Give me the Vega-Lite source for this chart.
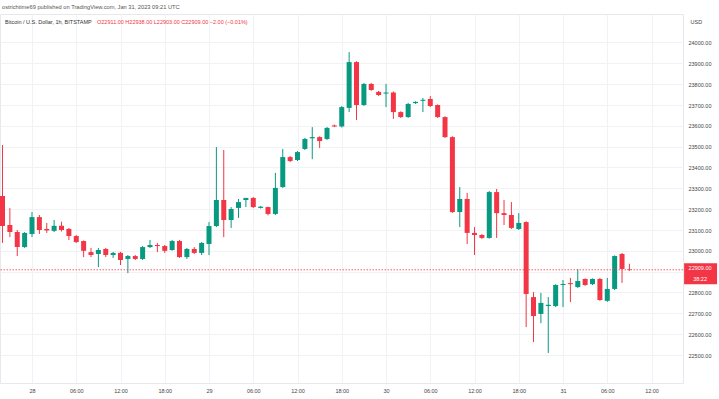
{
  "$schema": "https://vega.github.io/schema/vega-lite/v6.json",
  "width": 683,
  "height": 369,
  "autosize": "none",
  "padding": {"left": 0, "top": 14, "right": 36, "bottom": 16},
  "background": "white",
  "config": {
    "font": "Liberation Sans",
    "view": {"stroke": "#e6e8ee"}
  },
  "title": {
    "text": "ostrichtime69 published on TradingView.com, Jan 31, 2023 09:21 UTC",
    "anchor": "start",
    "frame": "group",
    "fontSize": 5.7,
    "fontWeight": "normal",
    "color": "#555555",
    "offset": 4,
    "dx": 2
  },
  "datasets": {
    "candles": [
      {"t": 1674849600000, "open": 23263, "high": 23508, "low": 23038, "close": 23119},
      {"t": 1674853200000, "open": 23124, "high": 23205, "low": 23066, "close": 23090},
      {"t": 1674856800000, "open": 23090, "high": 23100, "low": 22975, "close": 23018},
      {"t": 1674860400000, "open": 23018, "high": 23090, "low": 23014, "close": 23086},
      {"t": 1674864000000, "open": 23081, "high": 23186, "low": 23066, "close": 23162},
      {"t": 1674867600000, "open": 23162, "high": 23172, "low": 23081, "close": 23100},
      {"t": 1674871200000, "open": 23105, "high": 23134, "low": 23086, "close": 23098},
      {"t": 1674874800000, "open": 23096, "high": 23148, "low": 23090, "close": 23120},
      {"t": 1674878400000, "open": 23120, "high": 23140, "low": 23093, "close": 23100},
      {"t": 1674882000000, "open": 23105, "high": 23110, "low": 23052, "close": 23071},
      {"t": 1674885600000, "open": 23071, "high": 23076, "low": 23038, "close": 23042},
      {"t": 1674889200000, "open": 23047, "high": 23050, "low": 22970, "close": 23000},
      {"t": 1674892800000, "open": 22994, "high": 23014, "low": 22970, "close": 22980},
      {"t": 1674896400000, "open": 22985, "high": 23014, "low": 22922, "close": 23004},
      {"t": 1674900000000, "open": 23009, "high": 23014, "low": 22970, "close": 22980},
      {"t": 1674903600000, "open": 22980, "high": 22995, "low": 22966, "close": 22990},
      {"t": 1674907200000, "open": 22990, "high": 22995, "low": 22932, "close": 22956},
      {"t": 1674910800000, "open": 22961, "high": 22980, "low": 22893, "close": 22975},
      {"t": 1674914400000, "open": 22975, "high": 22980, "low": 22956, "close": 22961},
      {"t": 1674918000000, "open": 22961, "high": 23023, "low": 22956, "close": 23018},
      {"t": 1674921600000, "open": 23018, "high": 23052, "low": 23014, "close": 23028},
      {"t": 1674925200000, "open": 23028, "high": 23038, "low": 22994, "close": 23023},
      {"t": 1674928800000, "open": 23023, "high": 23028, "low": 22990, "close": 23000},
      {"t": 1674932400000, "open": 23004, "high": 23052, "low": 23000, "close": 23047},
      {"t": 1674936000000, "open": 23047, "high": 23052, "low": 22966, "close": 22970},
      {"t": 1674939600000, "open": 22970, "high": 23014, "low": 22961, "close": 23009},
      {"t": 1674943200000, "open": 23009, "high": 23018, "low": 22985, "close": 22990},
      {"t": 1674946800000, "open": 22990, "high": 23042, "low": 22980, "close": 23038},
      {"t": 1674950400000, "open": 23033, "high": 23138, "low": 22980, "close": 23119},
      {"t": 1674954000000, "open": 23119, "high": 23498, "low": 23114, "close": 23244},
      {"t": 1674957600000, "open": 23244, "high": 23484, "low": 23066, "close": 23148},
      {"t": 1674961200000, "open": 23148, "high": 23210, "low": 23110, "close": 23201},
      {"t": 1674964800000, "open": 23206, "high": 23249, "low": 23158, "close": 23234},
      {"t": 1674968400000, "open": 23244, "high": 23254, "low": 23210, "close": 23254},
      {"t": 1674972000000, "open": 23254, "high": 23258, "low": 23205, "close": 23210},
      {"t": 1674975600000, "open": 23206, "high": 23215, "low": 23203, "close": 23212},
      {"t": 1674979200000, "open": 23210, "high": 23212, "low": 23170, "close": 23177},
      {"t": 1674982800000, "open": 23177, "high": 23374, "low": 23172, "close": 23302},
      {"t": 1674986400000, "open": 23306, "high": 23489, "low": 23302, "close": 23450},
      {"t": 1674990000000, "open": 23450, "high": 23455, "low": 23426, "close": 23431},
      {"t": 1674993600000, "open": 23436, "high": 23479, "low": 23431, "close": 23474},
      {"t": 1674997200000, "open": 23489, "high": 23542, "low": 23484, "close": 23537},
      {"t": 1675000800000, "open": 23540, "high": 23594, "low": 23440, "close": 23546},
      {"t": 1675004400000, "open": 23546, "high": 23550, "low": 23494, "close": 23527},
      {"t": 1675008000000, "open": 23537, "high": 23595, "low": 23532, "close": 23590},
      {"t": 1675011600000, "open": 23602, "high": 23606, "low": 23594, "close": 23597},
      {"t": 1675015200000, "open": 23597, "high": 23695, "low": 23592, "close": 23690},
      {"t": 1675018800000, "open": 23686, "high": 23954, "low": 23666, "close": 23906},
      {"t": 1675022400000, "open": 23906, "high": 23910, "low": 23628, "close": 23700},
      {"t": 1675026000000, "open": 23700, "high": 23806, "low": 23695, "close": 23801},
      {"t": 1675029600000, "open": 23801, "high": 23806, "low": 23768, "close": 23772},
      {"t": 1675033200000, "open": 23763, "high": 23768, "low": 23743, "close": 23748},
      {"t": 1675036800000, "open": 23755, "high": 23801, "low": 23690, "close": 23760},
      {"t": 1675040400000, "open": 23760, "high": 23765, "low": 23633, "close": 23666},
      {"t": 1675044000000, "open": 23666, "high": 23670, "low": 23638, "close": 23642},
      {"t": 1675047600000, "open": 23642, "high": 23710, "low": 23638, "close": 23705},
      {"t": 1675051200000, "open": 23709, "high": 23718, "low": 23705, "close": 23715},
      {"t": 1675054800000, "open": 23720, "high": 23734, "low": 23666, "close": 23725},
      {"t": 1675058400000, "open": 23729, "high": 23743, "low": 23690, "close": 23695},
      {"t": 1675062000000, "open": 23700, "high": 23703, "low": 23638, "close": 23642},
      {"t": 1675065600000, "open": 23642, "high": 23646, "low": 23542, "close": 23546},
      {"t": 1675069200000, "open": 23546, "high": 23550, "low": 23182, "close": 23186},
      {"t": 1675072800000, "open": 23186, "high": 23306, "low": 23114, "close": 23249},
      {"t": 1675076400000, "open": 23249, "high": 23278, "low": 23033, "close": 23086},
      {"t": 1675080000000, "open": 23086, "high": 23114, "low": 22980, "close": 23076},
      {"t": 1675083600000, "open": 23076, "high": 23081, "low": 23057, "close": 23062},
      {"t": 1675087200000, "open": 23062, "high": 23287, "low": 23058, "close": 23282},
      {"t": 1675090800000, "open": 23282, "high": 23297, "low": 23062, "close": 23181},
      {"t": 1675094400000, "open": 23181, "high": 23244, "low": 23124, "close": 23172},
      {"t": 1675098000000, "open": 23172, "high": 23234, "low": 23105, "close": 23110},
      {"t": 1675101600000, "open": 23105, "high": 23181, "low": 23100, "close": 23134},
      {"t": 1675105200000, "open": 23138, "high": 23142, "low": 22634, "close": 22793},
      {"t": 1675108800000, "open": 22778, "high": 22802, "low": 22562, "close": 22687},
      {"t": 1675112400000, "open": 22697, "high": 22798, "low": 22653, "close": 22750},
      {"t": 1675116000000, "open": 22735, "high": 22778, "low": 22510, "close": 22741},
      {"t": 1675119600000, "open": 22735, "high": 22840, "low": 22730, "close": 22836},
      {"t": 1675123200000, "open": 22836, "high": 22860, "low": 22730, "close": 22841},
      {"t": 1675126800000, "open": 22845, "high": 22870, "low": 22754, "close": 22840},
      {"t": 1675130400000, "open": 22826, "high": 22912, "low": 22822, "close": 22855},
      {"t": 1675134000000, "open": 22865, "high": 22868, "low": 22832, "close": 22836},
      {"t": 1675137600000, "open": 22840, "high": 22868, "low": 22836, "close": 22865},
      {"t": 1675141200000, "open": 22865, "high": 22870, "low": 22760, "close": 22764},
      {"t": 1675144800000, "open": 22760, "high": 22870, "low": 22755, "close": 22817},
      {"t": 1675148400000, "open": 22817, "high": 22978, "low": 22812, "close": 22975},
      {"t": 1675152000000, "open": 22985, "high": 22990, "low": 22846, "close": 22913},
      {"t": 1675155600000, "open": 22911, "high": 22938, "low": 22903, "close": 22909}
    ],
    "notes": [
      {"symbol": "Bitcoin / U.S. Dollar, 1h, BITSTAMP", "ohlc": "O22911.00 H22938.00 L22903.00 C22909.00 −2.00 (−0.01%)", "last": "22909.00", "countdown": "38:22"}
    ]
  },
  "layer": [
    {
      "data": {"name": "candles"},
      "mark": {"type": "rule", "strokeWidth": 1},
      "encoding": {
        "x": {
          "field": "t",
          "type": "temporal",
          "scale": {"type": "utc", "domain": [1674848380000, 1675181760000], "padding": 0},
          "axis": {
            "title": null,
            "values": [1674864000000, 1674885600000, 1674907200000, 1674928800000, 1674950400000, 1674972000000, 1674993600000, 1675015200000, 1675036800000, 1675058400000, 1675080000000, 1675101600000, 1675123200000, 1675144800000, 1675166400000],
            "tickCount": 30,
            "labelExpr": "utchours(datum.value) == 0 ? utcFormat(datum.value, '%d') : utcFormat(datum.value, '%H:%M')",
            "grid": true,
            "gridColor": "#f0f2f6",
            "domain": true,
            "domainColor": "#e6e8ee",
            "ticks": false,
            "labelFontSize": 5.5,
            "labelColor": "#444444",
            "labelPadding": 5,
            "labelFlush": false
          }
        },
        "y": {
          "field": "low",
          "type": "quantitative",
          "scale": {"domain": [22365.6, 24136.8], "nice": false, "zero": false},
          "axis": {
            "orient": "right",
            "title": "USD",
            "titleAngle": 0,
            "titleAlign": "left",
            "titleBaseline": "middle",
            "titleX": 7,
            "titleY": 7,
            "titleFontSize": 5.5,
            "titleFontWeight": "normal",
            "titleColor": "#444444",
            "values": [22500, 22600, 22700, 22800, 22900, 23000, 23100, 23200, 23300, 23400, 23500, 23600, 23700, 23800, 23900, 24000],
            "tickCount": 30,
            "format": ".2f",
            "labelOverlap": false,
            "grid": true,
            "gridColor": "#f0f2f6",
            "domain": false,
            "ticks": false,
            "labelFontSize": 5.5,
            "labelColor": "#444444",
            "labelPadding": 5
          }
        },
        "y2": {"field": "high"},
        "color": {"condition": {"test": "datum.close >= datum.open", "value": "#089981"}, "value": "#f23645"}
      }
    },
    {
      "data": {"name": "candles"},
      "mark": {"type": "bar", "size": 5},
      "encoding": {
        "x": {"field": "t", "type": "temporal"},
        "y": {"field": "open", "type": "quantitative"},
        "y2": {"field": "close"},
        "color": {"condition": {"test": "datum.close >= datum.open", "value": "#089981"}, "value": "#f23645"}
      }
    },
    {
      "data": {"name": "notes"},
      "mark": {"type": "rule", "color": "#f23645", "strokeWidth": 1, "strokeDash": [1.5, 1.5], "opacity": 0.8},
      "encoding": {"y": {"datum": 22909, "type": "quantitative"}}
    },
    {
      "data": {"name": "notes"},
      "mark": {"type": "text", "align": "left", "baseline": "middle", "fontSize": 5.5, "color": "#333333"},
      "encoding": {
        "x": {"datum": 1674850824000, "type": "temporal"},
        "y": {"datum": 24098, "type": "quantitative"},
        "text": {"field": "symbol"}
      }
    },
    {
      "data": {"name": "notes"},
      "mark": {"type": "text", "align": "left", "baseline": "middle", "fontSize": 5.5, "color": "#f23645"},
      "encoding": {
        "x": {"datum": 1674895740000, "type": "temporal"},
        "y": {"datum": 24098, "type": "quantitative"},
        "text": {"field": "ohlc"}
      }
    },
    {
      "data": {"name": "notes"},
      "mark": {"type": "rect", "color": "#f23645"},
      "encoding": {
        "x": {"datum": 1675182300000, "type": "temporal"},
        "x2": {"datum": 1675198380000},
        "y": {"datum": 22940, "type": "quantitative"},
        "y2": {"datum": 22840}
      }
    },
    {
      "data": {"name": "notes"},
      "mark": {"type": "text", "align": "center", "baseline": "middle", "fontSize": 5.5, "color": "white"},
      "encoding": {
        "x": {"datum": 1675190100000, "type": "temporal"},
        "y": {"datum": 22919, "type": "quantitative"},
        "text": {"field": "last"}
      }
    },
    {
      "data": {"name": "notes"},
      "mark": {"type": "text", "align": "center", "baseline": "middle", "fontSize": 5.5, "color": "white"},
      "encoding": {
        "x": {"datum": 1675190100000, "type": "temporal"},
        "y": {"datum": 22864, "type": "quantitative"},
        "text": {"field": "countdown"}
      }
    }
  ]
}
